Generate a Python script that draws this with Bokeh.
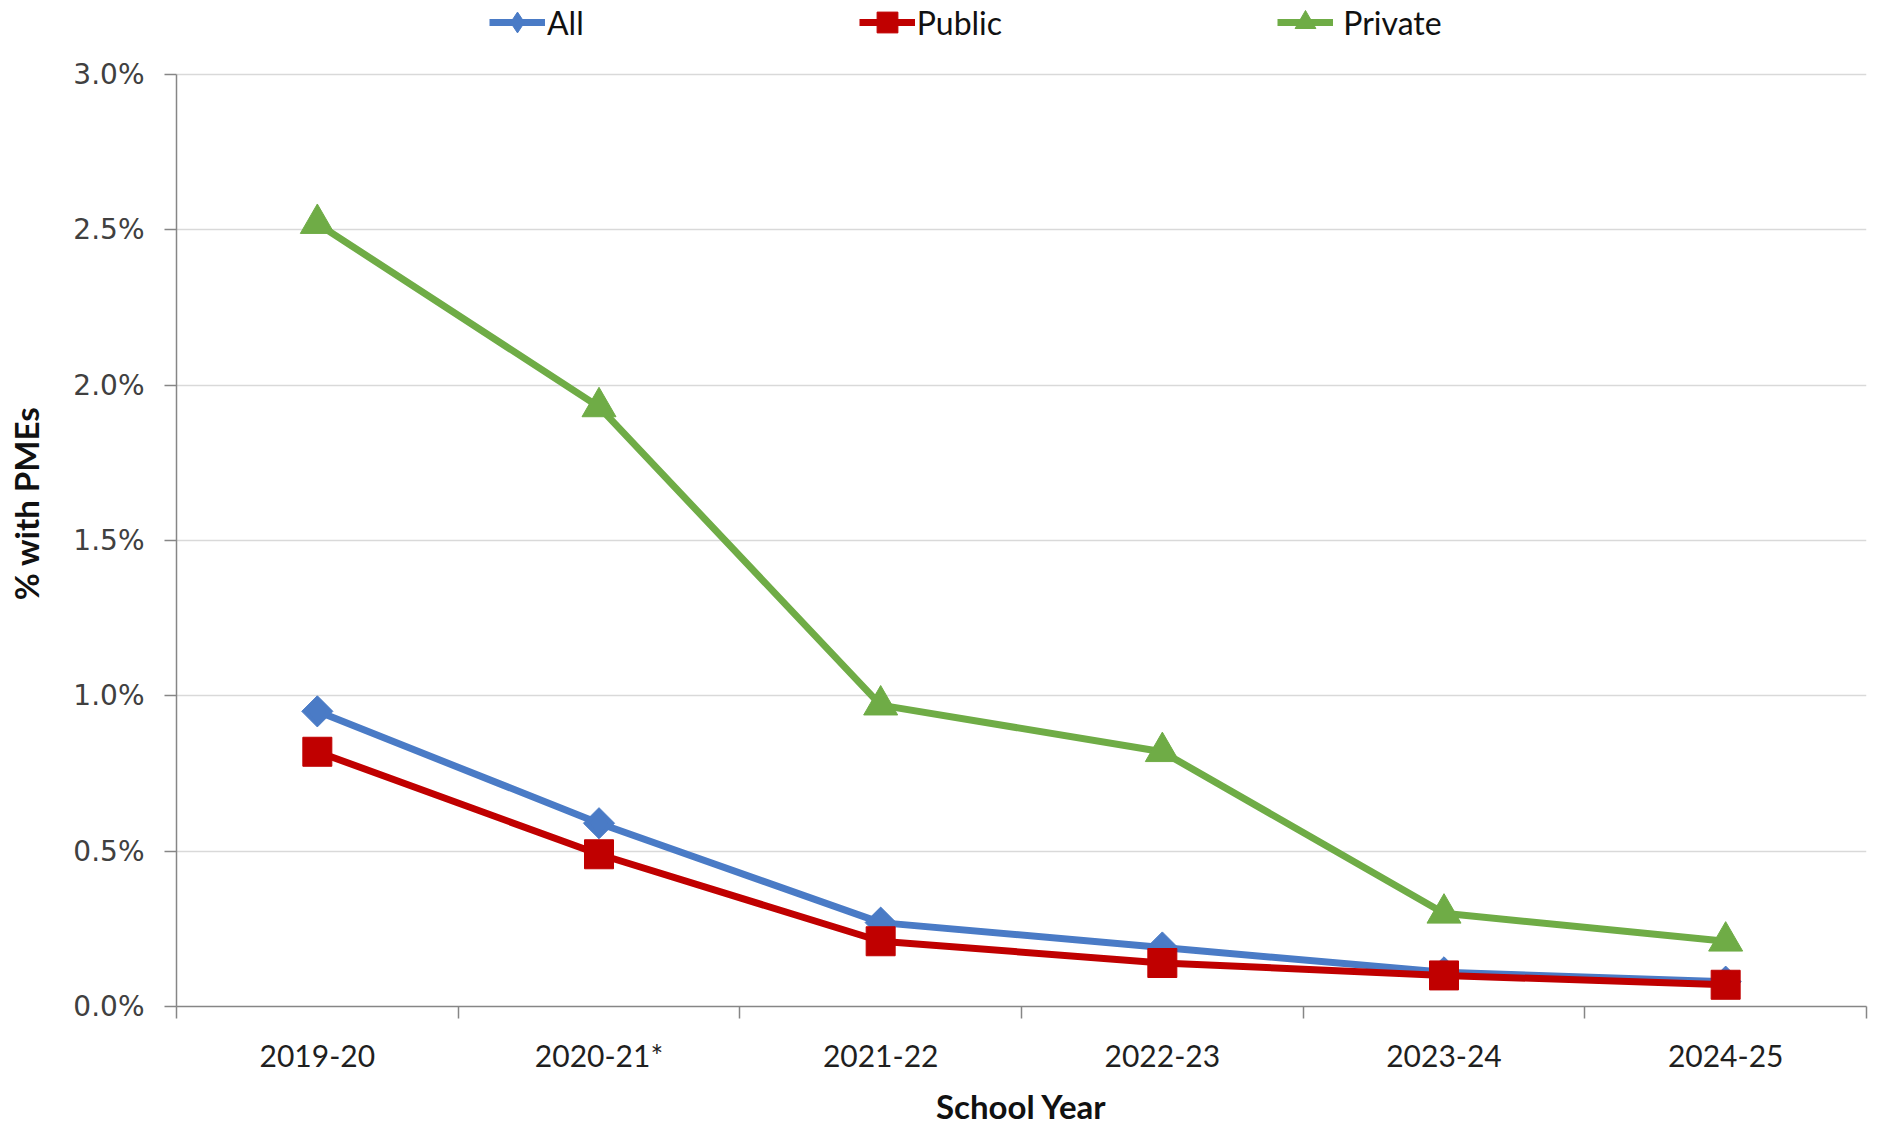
import math
from bokeh.plotting import figure
from bokeh.models import (Range1d, FixedTicker, NumeralTickFormatter, Legend, LegendItem)
from bokeh.embed import file_html
from bokeh.resources import INLINE

years = ["2019-20", "2020-21*", "2021-22", "2022-23", "2023-24", "2024-25"]
all_pct = [0.0095, 0.0059, 0.0027, 0.0019, 0.0011, 0.0008]
public_pct = [0.0082, 0.0049, 0.0021, 0.0014, 0.0010, 0.0007]
private_pct = [0.0252, 0.0193, 0.0097, 0.0082, 0.0030, 0.0021]
y_ticks = [0.0, 0.005, 0.010, 0.015, 0.020, 0.025, 0.030]

x = [i + 0.5 for i in range(len(years))]

# layout (pixels)
FL, FR, FB = 176, 13, 119
FW = 1690
PLOT_TOP = 74          # where 3.0% sits, measured from the top of the figure
PLOT_H = 932           # height of the 0..3% band
FH = PLOT_TOP + PLOT_H  # frame reaches to the top so the legend can sit inside it
y_max = 0.03
y_end = y_max * FH / PLOT_H

p = figure(width=FL + FW + FR, height=FH + FB, output_backend="svg",
           toolbar_location=None, title=None, x_range=Range1d(0, len(years)),
           y_range=Range1d(0, y_end), min_border_left=FL, min_border_right=FR,
           min_border_top=0, min_border_bottom=FB)
p.frame_width = FW
p.frame_height = FH
p.outline_line_color = None
p.background_fill_color = "white"

# x axis
xa = p.xaxis[0]
xa.ticker = FixedTicker(ticks=x, minor_ticks=list(range(len(years) + 1)))
xa.major_label_overrides = {xi: y for xi, y in zip(x, years)}
xa.major_tick_out = 0
xa.major_tick_in = 0
xa.minor_tick_out = 12
xa.minor_tick_in = 0
xa.minor_tick_line_color = "#868686"
xa.minor_tick_line_width = 1.5
xa.axis_line_color = "#868686"
xa.axis_line_width = 1.5
xa.major_label_text_font = "Lato"
xa.major_label_text_font_size = "30px"
xa.major_label_text_color = "#1f1f1f"
xa.major_label_standoff = 18
xa.axis_label = "School Year"
xa.axis_label_text_font = "Lato"
xa.axis_label_text_font_style = "bold"
xa.axis_label_text_font_size = "33px"
xa.axis_label_text_color = "#111111"
xa.axis_label_standoff = 10

# y axis
ya = p.yaxis[0]
ya.ticker = FixedTicker(ticks=y_ticks, minor_ticks=[])
ya.bounds = (0, y_max)
ya.formatter = NumeralTickFormatter(format="0.0%")
ya.major_tick_out = 12
ya.major_tick_in = 0
ya.major_tick_line_color = "#868686"
ya.major_tick_line_width = 1.5
ya.axis_line_color = "#868686"
ya.axis_line_width = 1.5
ya.major_label_text_font = "DejaVu Sans"
ya.major_label_text_font_size = "28px"
ya.major_label_text_color = "#404040"
ya.major_label_standoff = 20
ya.axis_label = "% with PMEs"
ya.axis_label_text_font = "Lato"
ya.axis_label_text_font_style = "bold"
ya.axis_label_text_font_size = "33px"
ya.axis_label_text_color = "#111111"
ya.axis_label_standoff = 24

p.xgrid.grid_line_color = None
p.ygrid.ticker = FixedTicker(ticks=y_ticks[1:])
p.ygrid.grid_line_color = "#d9d9d9"
p.ygrid.grid_line_width = 1.5

blue, red, green = "#4a7bc6", "#c00000", "#6fac46"

l1 = p.line(x, all_pct, line_color=blue, line_width=7)
m1 = p.scatter(x, all_pct, marker="square", angle=math.pi / 4, size=22,
               fill_color=blue, line_color=blue)
# diamond that sits inside the rotated square; it gives the legend its diamond
d1 = p.scatter(x, all_pct, marker="diamond", size=26, fill_color=blue, line_color=blue)
l2 = p.line(x, public_pct, line_color=red, line_width=7)
m2 = p.scatter(x, public_pct, marker="square", size=29, fill_color=red, line_color=red)
l3 = p.line(x, private_pct, line_color=green, line_width=7)
m3 = p.scatter(x, private_pct, marker="triangle", size=34, fill_color=green,
               line_color=green)

GH = 52
legend = Legend(items=[LegendItem(label="All", renderers=[l1, d1]),
                       LegendItem(label="Public", renderers=[l2, m2]),
                       LegendItem(label=" Private", renderers=[l3, m3])],
                orientation="horizontal", location=(313, FH - 22 - GH // 2),
                padding=0, margin=0, spacing=275, glyph_width=56, glyph_height=GH,
                label_standoff=2, label_text_font="Lato", label_text_font_size="32px",
                label_text_color="#111111", border_line_color=None,
                background_fill_alpha=0)
p.add_layout(legend, "center")

open("out.html", "w").write(file_html(p, INLINE))
